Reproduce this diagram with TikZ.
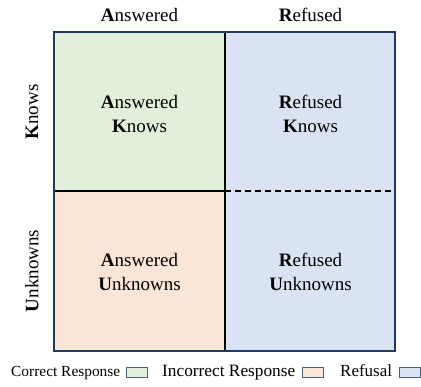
\documentclass[tikz,border=0pt]{standalone}
\usepackage{fontspec}
\setmainfont{Liberation Serif}
\usetikzlibrary{positioning}

\definecolor{cgreen}{HTML}{E2EFDA}
\definecolor{cpeach}{HTML}{FBE5D6}
\definecolor{cblue}{HTML}{DAE3F3}
\definecolor{navy}{HTML}{1F3864}

\tikzset{
  lbl/.style={font=\fontsize{19}{24}\selectfont, align=center, inner sep=0pt},
  leg/.style={inner sep=0pt, anchor=base west},
  legbox/.style={draw=navy!80, line width=0.8pt, minimum width=21pt, minimum height=10pt, inner sep=0pt}
}

\begin{document}
\begin{tikzpicture}[x=1pt,y=-1pt]
  \useasboundingbox (0,0) rectangle (421,387);

  % cells
  \fill[cgreen] (54,32) rectangle (225,191);
  \fill[cpeach] (54,191) rectangle (225,351);
  \fill[cblue] (225,32) rectangle (395,351);
  \draw[line width=1.2pt] (225,32) -- (225,351);
  \draw[line width=1.2pt] (54,191) -- (225,191);
  \draw[line width=1.2pt, dashed, dash pattern=on 6pt off 4pt] (225,191) -- (395,191);
  \draw[navy, line width=2pt] (54,32) rectangle (395,351);

  % column and row heads
  \node[lbl] (ans) at (139.5,15) {\textbf{A}nswered};
  \node[lbl] (ref) at (310.5,15) {\textbf{R}efused};
  \node[lbl, rotate=90] (kn) at (32,112) {\textbf{K}nows};
  \node[lbl, rotate=90] (unk) at (32,271) {\textbf{U}nknowns};

  % cell texts
  \node[lbl] (ak) at (139.5,114) {\textbf{A}nswered\\\textbf{K}nows};
  \node[lbl] (rk) at (310.5,114) {\textbf{R}efused\\\textbf{K}nows};
  \node[lbl] (au) at (139.5,272) {\textbf{A}nswered\\\textbf{U}nknowns};
  \node[lbl] (ru) at (310.5,272) {\textbf{R}efused\\\textbf{U}nknowns};

  % legend
  \node[leg, font=\fontsize{15.4}{18}\selectfont] (lc) at (11,377) {Correct Response};
  \node[legbox, fill=cgreen] (bc) at (136.5,372) {};
  \node[leg, font=\fontsize{17.3}{20}\selectfont] (li) at (162,377) {Incorrect Response};
  \node[legbox, fill=cpeach] (bi) at (312.5,372) {};
  \node[leg, font=\fontsize{17}{20}\selectfont] (lr) at (340,377) {Refusal};
  \node[legbox, fill=cblue] (br) at (409.5,372) {};
\end{tikzpicture}
\end{document}
